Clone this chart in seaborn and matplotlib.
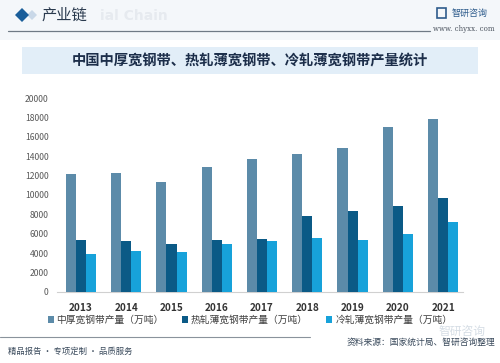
import matplotlib
matplotlib.use("Agg")
import matplotlib.pyplot as plt
import seaborn as sns
import pandas as pd
from matplotlib.patches import Rectangle, Polygon
from matplotlib.lines import Line2D

years = ["2013", "2014", "2015", "2016", "2017", "2018", "2019", "2020", "2021"]
medium_thick = [12150, 12250, 11300, 12850, 13700, 14200, 14900, 17000, 17900]
hot_rolled = [5350, 5200, 4900, 5350, 5450, 7850, 8350, 8900, 9700]
cold_rolled = [3870, 4200, 4130, 4900, 5250, 5520, 5320, 6000, 7180]
series_names = ["中厚宽钢带产量（万吨）", "热轧薄宽钢带产量（万吨）", "冷轧薄宽钢带产量（万吨）"]
colors = ["#5C8BA9", "#0B5A86", "#17A2DA"]
title = "中国中厚宽钢带、热轧薄宽钢带、冷轧薄宽钢带产量统计"

rows = []
for name, vals in zip(series_names, [medium_thick, hot_rolled, cold_rolled]):
    for y, v in zip(years, vals):
        rows.append({"year": y, "series": name, "value": v})
df = pd.DataFrame(rows)

sns.set_theme(style="white")
plt.rcParams["font.family"] = ["Noto Sans CJK SC", "DejaVu Sans"]

fig = plt.figure(figsize=(5.0, 3.63), dpi=100)
fig.patch.set_facecolor("#FFFFFF")
W, H = 500, 363

def fx(x):
    return x / W

def fy(y):
    return 1 - y / H

# header background
fig.patches.append(Rectangle((0, fy(40)), 1, 40 / H, transform=fig.transFigure,
                             facecolor="#F4F7FA", edgecolor="none", zorder=0))
# diamond
fig.patches.append(Polygon([(fx(27), fy(15)), (fx(32), fy(10)), (fx(37), fy(15)), (fx(32), fy(20))],
                           closed=True, transform=fig.transFigure, facecolor="#C9D8E8",
                           edgecolor="none", zorder=1))
fig.patches.append(Polygon([(fx(15), fy(15)), (fx(22), fy(8)), (fx(29), fy(15)), (fx(22), fy(22))],
                           closed=True, transform=fig.transFigure, facecolor="#1A5E9A",
                           edgecolor="none", zorder=2))
fig.text(fx(100), fy(16), "ial Chain", fontsize=10, color="#E6EAEF",
         fontweight="bold", va="center", ha="left", family=["DejaVu Sans"], zorder=1)
fig.text(fx(42), fy(15), "产业链", fontsize=11, color="#2A3A4E", va="center", ha="left", zorder=3)
fig.add_artist(Line2D([fx(8), fx(430)], [fy(31), fy(31)], transform=fig.transFigure,
                      color="#6F7A85", lw=0.9))
fig.patches.append(Rectangle((fx(437), fy(18)), 9 / W, 10 / H, transform=fig.transFigure,
                             facecolor="none", edgecolor="#2E5C8C", lw=1.2))
fig.text(fx(452), fy(13), "智研咨询", fontsize=6.5, color="#2E5C8C", va="center", ha="left")
fig.text(fx(495), fy(29), "www. chyxx. com", fontsize=5, color="#4D5560", va="center", ha="right",
         family=["DejaVu Serif"])

# title band
fig.patches.append(Rectangle((fx(22), fy(74)), 456 / W, 27 / H, transform=fig.transFigure,
                             facecolor="#E2EEF8", edgecolor="none", zorder=0))
fig.text(0.5, fy(61), title, fontsize=10.3, fontweight="bold", color="#1C2E4A",
         ha="center", va="center")

# main axes
ax = fig.add_axes([fx(57), fy(291.7), (463 - 57) / W, (291.7 - 98.3) / H])
ax.set_facecolor("none")
sns.barplot(data=df, x="year", y="value", hue="series", palette=colors,
            width=0.67, gap=0, saturation=1, ax=ax, legend=False, zorder=3,
            linewidth=0, edgecolor="none")
ax.set_ylim(0, 20000)
ax.set_xlim(-0.53, 8.44)
ax.set_yticks(range(0, 20001, 2000))
ax.set_yticklabels([str(v) for v in range(0, 20001, 2000)], fontsize=6.2, color="#595959")
ax.tick_params(axis="y", length=0, pad=6)
ax.tick_params(axis="x", length=0, pad=8, labelsize=7.2, labelcolor="#333333")
for lab in ax.get_xticklabels():
    lab.set_fontweight("bold")
ax.set_xlabel("")
ax.set_ylabel("")
for s in ["top", "right", "left"]:
    ax.spines[s].set_visible(False)
ax.spines["bottom"].set_color("#D0D0D0")
ax.spines["bottom"].set_linewidth(0.8)
ax.grid(False)

# legend
handles = [Rectangle((0, 0), 1, 1, facecolor=c, edgecolor="none") for c in colors]
leg = fig.legend(handles, series_names, loc="center", bbox_to_anchor=(0.5, fy(320)),
                 ncol=3, frameon=False, fontsize=7, handlelength=0.6, handleheight=0.6,
                 handletextpad=0.3, columnspacing=1.9, labelcolor="#404040")

# footer
fig.add_artist(Line2D([0, fx(310)], [fy(337), fy(337)], transform=fig.transFigure,
                      color="#8A939C", lw=0.8))
fig.text(fx(8), fy(351), "精品报告 · 专项定制 · 品质服务", fontsize=6, color="#3A4A5C",
         ha="left", va="center")
fig.text(fx(462), fy(331), "智研咨询", fontsize=8.5, color="#D5DDE5", ha="center",
         va="center", zorder=0)
fig.text(fx(495), fy(342), "资料来源：国家统计局、智研咨询整理", fontsize=6.3, color="#3A4A5C",
         ha="right", va="center")

fig.savefig("out.png", dpi=100, facecolor=fig.get_facecolor())
